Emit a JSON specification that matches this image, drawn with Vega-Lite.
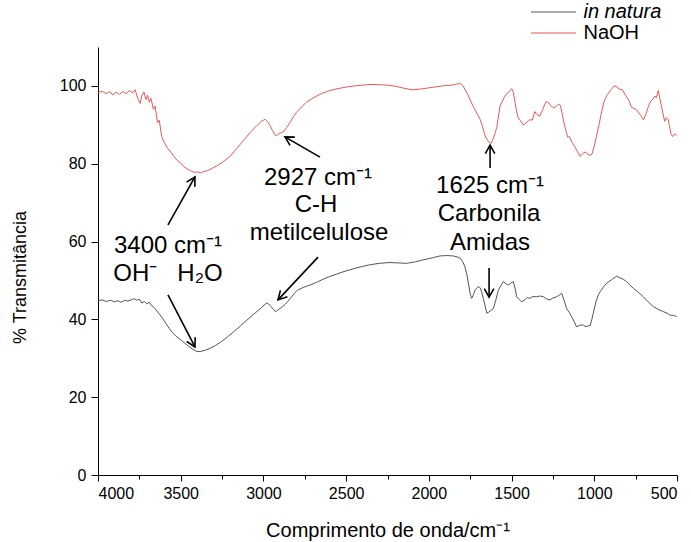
{
  "$schema": "https://vega.github.io/schema/vega-lite/v6.json",
  "width": 579,
  "height": 428,
  "autosize": {"type": "none"},
  "padding": {"left": 98, "top": 47, "right": 14, "bottom": 67},
  "background": "white",
  "config": {
    "view": {"stroke": null},
    "font": "Liberation Sans",
    "axis": {
      "domainColor": "black",
      "tickColor": "black",
      "labelColor": "black",
      "titleColor": "black",
      "labelFont": "Liberation Sans",
      "titleFont": "Liberation Sans",
      "labelFontSize": 16,
      "titleFontSize": 19,
      "titleFontWeight": "normal",
      "grid": false
    }
  },
  "datasets": {
    "spectra": [
      {"series":"NaOH","wn":4000,"T":98.3},{"series":"NaOH","wn":3975,"T":98.6},{"series":"NaOH","wn":3950,"T":98.0},{"series":"NaOH","wn":3930,"T":98.5},{"series":"NaOH","wn":3910,"T":97.7},{"series":"NaOH","wn":3890,"T":98.4},{"series":"NaOH","wn":3870,"T":97.8},{"series":"NaOH","wn":3850,"T":98.6},{"series":"NaOH","wn":3830,"T":98.0},{"series":"NaOH","wn":3810,"T":98.8},{"series":"NaOH","wn":3790,"T":98.2},{"series":"NaOH","wn":3775,"T":99.0},{"series":"NaOH","wn":3760,"T":96.8},{"series":"NaOH","wn":3745,"T":95.5},{"series":"NaOH","wn":3735,"T":97.5},{"series":"NaOH","wn":3722,"T":98.4},{"series":"NaOH","wn":3710,"T":96.5},{"series":"NaOH","wn":3700,"T":97.6},{"series":"NaOH","wn":3690,"T":95.8},{"series":"NaOH","wn":3680,"T":96.8},{"series":"NaOH","wn":3665,"T":94.0},{"series":"NaOH","wn":3655,"T":94.8},{"series":"NaOH","wn":3640,"T":90.5},{"series":"NaOH","wn":3630,"T":91.2},{"series":"NaOH","wn":3615,"T":87.0},{"series":"NaOH","wn":3600,"T":85.5},{"series":"NaOH","wn":3580,"T":84.0},{"series":"NaOH","wn":3560,"T":83.0},{"series":"NaOH","wn":3540,"T":81.8},{"series":"NaOH","wn":3520,"T":80.8},{"series":"NaOH","wn":3500,"T":80.2},{"series":"NaOH","wn":3480,"T":79.2},{"series":"NaOH","wn":3460,"T":78.6},{"series":"NaOH","wn":3440,"T":78.2},{"series":"NaOH","wn":3420,"T":77.8},{"series":"NaOH","wn":3400,"T":77.9},{"series":"NaOH","wn":3380,"T":77.6},{"series":"NaOH","wn":3360,"T":78.0},{"series":"NaOH","wn":3340,"T":78.2},{"series":"NaOH","wn":3310,"T":78.8},{"series":"NaOH","wn":3280,"T":79.5},{"series":"NaOH","wn":3240,"T":80.6},{"series":"NaOH","wn":3200,"T":82.0},{"series":"NaOH","wn":3160,"T":84.0},{"series":"NaOH","wn":3120,"T":86.0},{"series":"NaOH","wn":3080,"T":88.0},{"series":"NaOH","wn":3040,"T":89.8},{"series":"NaOH","wn":3010,"T":91.0},{"series":"NaOH","wn":2990,"T":91.4},{"series":"NaOH","wn":2975,"T":90.8},{"series":"NaOH","wn":2960,"T":89.8},{"series":"NaOH","wn":2945,"T":88.5},{"series":"NaOH","wn":2930,"T":87.4},{"series":"NaOH","wn":2920,"T":87.2},{"series":"NaOH","wn":2905,"T":87.8},{"series":"NaOH","wn":2890,"T":88.0},{"series":"NaOH","wn":2875,"T":88.4},{"series":"NaOH","wn":2860,"T":89.3},{"series":"NaOH","wn":2840,"T":90.6},{"series":"NaOH","wn":2820,"T":92.0},{"series":"NaOH","wn":2800,"T":93.2},{"series":"NaOH","wn":2770,"T":94.6},{"series":"NaOH","wn":2740,"T":95.8},{"series":"NaOH","wn":2700,"T":96.9},{"series":"NaOH","wn":2650,"T":98.0},{"series":"NaOH","wn":2600,"T":98.8},{"series":"NaOH","wn":2550,"T":99.3},{"series":"NaOH","wn":2500,"T":99.7},{"series":"NaOH","wn":2450,"T":100.0},{"series":"NaOH","wn":2400,"T":100.2},{"series":"NaOH","wn":2350,"T":100.4},{"series":"NaOH","wn":2300,"T":100.3},{"series":"NaOH","wn":2250,"T":100.2},{"series":"NaOH","wn":2200,"T":99.9},{"series":"NaOH","wn":2150,"T":99.4},{"series":"NaOH","wn":2100,"T":99.0},{"series":"NaOH","wn":2050,"T":99.2},{"series":"NaOH","wn":2000,"T":99.5},{"series":"NaOH","wn":1950,"T":99.8},{"series":"NaOH","wn":1900,"T":100.1},{"series":"NaOH","wn":1860,"T":100.2},{"series":"NaOH","wn":1830,"T":100.5},{"series":"NaOH","wn":1810,"T":100.6},{"series":"NaOH","wn":1795,"T":100.1},{"series":"NaOH","wn":1780,"T":99.0},{"series":"NaOH","wn":1765,"T":97.8},{"series":"NaOH","wn":1750,"T":96.4},{"series":"NaOH","wn":1735,"T":95.0},{"series":"NaOH","wn":1720,"T":93.8},{"series":"NaOH","wn":1705,"T":92.6},{"series":"NaOH","wn":1690,"T":91.4},{"series":"NaOH","wn":1675,"T":89.5},{"series":"NaOH","wn":1660,"T":87.2},{"series":"NaOH","wn":1645,"T":85.9},{"series":"NaOH","wn":1635,"T":85.6},{"series":"NaOH","wn":1625,"T":85.2},{"series":"NaOH","wn":1615,"T":86.0},{"series":"NaOH","wn":1600,"T":87.8},{"series":"NaOH","wn":1590,"T":89.3},{"series":"NaOH","wn":1580,"T":92.0},{"series":"NaOH","wn":1570,"T":94.8},{"series":"NaOH","wn":1560,"T":95.6},{"series":"NaOH","wn":1545,"T":97.0},{"series":"NaOH","wn":1530,"T":98.0},{"series":"NaOH","wn":1515,"T":98.5},{"series":"NaOH","wn":1500,"T":99.3},{"series":"NaOH","wn":1490,"T":98.5},{"series":"NaOH","wn":1480,"T":96.0},{"series":"NaOH","wn":1470,"T":93.6},{"series":"NaOH","wn":1460,"T":91.8},{"series":"NaOH","wn":1445,"T":91.0},{"series":"NaOH","wn":1430,"T":90.0},{"series":"NaOH","wn":1415,"T":90.4},{"series":"NaOH","wn":1400,"T":91.0},{"series":"NaOH","wn":1390,"T":91.3},{"series":"NaOH","wn":1375,"T":91.2},{"series":"NaOH","wn":1360,"T":93.4},{"series":"NaOH","wn":1345,"T":92.6},{"series":"NaOH","wn":1330,"T":92.2},{"series":"NaOH","wn":1315,"T":93.6},{"series":"NaOH","wn":1300,"T":95.2},{"series":"NaOH","wn":1290,"T":96.0},{"series":"NaOH","wn":1275,"T":95.6},{"series":"NaOH","wn":1260,"T":94.8},{"series":"NaOH","wn":1245,"T":94.3},{"series":"NaOH","wn":1230,"T":94.8},{"series":"NaOH","wn":1215,"T":95.3},{"series":"NaOH","wn":1205,"T":95.0},{"series":"NaOH","wn":1195,"T":93.0},{"series":"NaOH","wn":1185,"T":90.8},{"series":"NaOH","wn":1170,"T":88.2},{"series":"NaOH","wn":1160,"T":86.8},{"series":"NaOH","wn":1150,"T":87.0},{"series":"NaOH","wn":1135,"T":85.5},{"series":"NaOH","wn":1120,"T":84.5},{"series":"NaOH","wn":1100,"T":83.0},{"series":"NaOH","wn":1085,"T":81.9},{"series":"NaOH","wn":1070,"T":82.6},{"series":"NaOH","wn":1055,"T":83.0},{"series":"NaOH","wn":1045,"T":82.7},{"series":"NaOH","wn":1030,"T":82.2},{"series":"NaOH","wn":1015,"T":82.4},{"series":"NaOH","wn":1000,"T":84.5},{"series":"NaOH","wn":985,"T":87.5},{"series":"NaOH","wn":970,"T":90.3},{"series":"NaOH","wn":955,"T":93.5},{"series":"NaOH","wn":940,"T":96.2},{"series":"NaOH","wn":920,"T":97.8},{"series":"NaOH","wn":900,"T":99.0},{"series":"NaOH","wn":880,"T":100.0},{"series":"NaOH","wn":865,"T":99.8},{"series":"NaOH","wn":850,"T":99.2},{"series":"NaOH","wn":830,"T":99.0},{"series":"NaOH","wn":810,"T":97.5},{"series":"NaOH","wn":790,"T":96.2},{"series":"NaOH","wn":775,"T":94.5},{"series":"NaOH","wn":760,"T":94.2},{"series":"NaOH","wn":745,"T":93.9},{"series":"NaOH","wn":730,"T":93.0},{"series":"NaOH","wn":715,"T":92.2},{"series":"NaOH","wn":703,"T":91.3},{"series":"NaOH","wn":690,"T":92.5},{"series":"NaOH","wn":675,"T":94.5},{"series":"NaOH","wn":660,"T":96.0},{"series":"NaOH","wn":645,"T":96.6},{"series":"NaOH","wn":633,"T":97.4},{"series":"NaOH","wn":625,"T":97.0},{"series":"NaOH","wn":613,"T":98.8},{"series":"NaOH","wn":605,"T":97.0},{"series":"NaOH","wn":595,"T":95.0},{"series":"NaOH","wn":585,"T":93.0},{"series":"NaOH","wn":575,"T":90.9},{"series":"NaOH","wn":565,"T":91.8},{"series":"NaOH","wn":553,"T":91.4},{"series":"NaOH","wn":545,"T":89.5},{"series":"NaOH","wn":535,"T":87.5},{"series":"NaOH","wn":527,"T":87.0},{"series":"NaOH","wn":515,"T":87.6},{"series":"NaOH","wn":503,"T":87.3},
      {"series":"in natura","wn":4000,"T":44.8},{"series":"in natura","wn":3975,"T":45.0},{"series":"in natura","wn":3950,"T":44.6},{"series":"in natura","wn":3925,"T":44.9},{"series":"in natura","wn":3900,"T":44.5},{"series":"in natura","wn":3880,"T":44.8},{"series":"in natura","wn":3860,"T":44.4},{"series":"in natura","wn":3840,"T":44.9},{"series":"in natura","wn":3820,"T":44.7},{"series":"in natura","wn":3800,"T":45.0},{"series":"in natura","wn":3780,"T":45.3},{"series":"in natura","wn":3765,"T":44.9},{"series":"in natura","wn":3750,"T":45.2},{"series":"in natura","wn":3735,"T":44.2},{"series":"in natura","wn":3720,"T":44.6},{"series":"in natura","wn":3705,"T":44.0},{"series":"in natura","wn":3690,"T":44.4},{"series":"in natura","wn":3675,"T":43.5},{"series":"in natura","wn":3660,"T":43.0},{"series":"in natura","wn":3645,"T":42.2},{"series":"in natura","wn":3630,"T":41.4},{"series":"in natura","wn":3610,"T":40.3},{"series":"in natura","wn":3590,"T":39.0},{"series":"in natura","wn":3570,"T":37.7},{"series":"in natura","wn":3550,"T":36.6},{"series":"in natura","wn":3530,"T":35.7},{"series":"in natura","wn":3510,"T":35.1},{"series":"in natura","wn":3490,"T":34.4},{"series":"in natura","wn":3470,"T":33.7},{"series":"in natura","wn":3450,"T":33.0},{"series":"in natura","wn":3430,"T":32.4},{"series":"in natura","wn":3410,"T":31.9},{"series":"in natura","wn":3395,"T":31.7},{"series":"in natura","wn":3375,"T":31.8},{"series":"in natura","wn":3350,"T":32.1},{"series":"in natura","wn":3320,"T":32.6},{"series":"in natura","wn":3290,"T":33.3},{"series":"in natura","wn":3260,"T":34.1},{"series":"in natura","wn":3220,"T":35.4},{"series":"in natura","wn":3180,"T":36.8},{"series":"in natura","wn":3140,"T":38.3},{"series":"in natura","wn":3100,"T":39.8},{"series":"in natura","wn":3060,"T":41.3},{"series":"in natura","wn":3020,"T":42.7},{"series":"in natura","wn":2995,"T":43.7},{"series":"in natura","wn":2980,"T":44.2},{"series":"in natura","wn":2970,"T":44.0},{"series":"in natura","wn":2955,"T":43.3},{"series":"in natura","wn":2940,"T":42.6},{"series":"in natura","wn":2928,"T":42.0},{"series":"in natura","wn":2915,"T":42.3},{"series":"in natura","wn":2900,"T":42.8},{"series":"in natura","wn":2885,"T":43.3},{"series":"in natura","wn":2870,"T":43.8},{"series":"in natura","wn":2855,"T":44.5},{"series":"in natura","wn":2835,"T":45.5},{"series":"in natura","wn":2815,"T":46.6},{"series":"in natura","wn":2795,"T":47.5},{"series":"in natura","wn":2760,"T":48.2},{"series":"in natura","wn":2720,"T":48.8},{"series":"in natura","wn":2680,"T":49.5},{"series":"in natura","wn":2640,"T":50.3},{"series":"in natura","wn":2600,"T":51.0},{"series":"in natura","wn":2560,"T":51.6},{"series":"in natura","wn":2520,"T":52.2},{"series":"in natura","wn":2480,"T":52.7},{"series":"in natura","wn":2440,"T":53.2},{"series":"in natura","wn":2400,"T":53.6},{"series":"in natura","wn":2360,"T":54.0},{"series":"in natura","wn":2300,"T":54.4},{"series":"in natura","wn":2235,"T":54.6},{"series":"in natura","wn":2180,"T":54.5},{"series":"in natura","wn":2134,"T":54.4},{"series":"in natura","wn":2080,"T":54.8},{"series":"in natura","wn":2033,"T":55.3},{"series":"in natura","wn":1980,"T":55.8},{"series":"in natura","wn":1933,"T":56.3},{"series":"in natura","wn":1890,"T":56.4},{"series":"in natura","wn":1852,"T":56.3},{"series":"in natura","wn":1825,"T":56.0},{"series":"in natura","wn":1810,"T":55.7},{"series":"in natura","wn":1795,"T":54.8},{"series":"in natura","wn":1782,"T":53.5},{"series":"in natura","wn":1770,"T":51.5},{"series":"in natura","wn":1761,"T":49.3},{"series":"in natura","wn":1750,"T":46.5},{"series":"in natura","wn":1741,"T":45.4},{"series":"in natura","wn":1730,"T":46.4},{"series":"in natura","wn":1721,"T":47.5},{"series":"in natura","wn":1711,"T":48.0},{"series":"in natura","wn":1700,"T":48.4},{"series":"in natura","wn":1691,"T":48.2},{"series":"in natura","wn":1681,"T":47.1},{"series":"in natura","wn":1670,"T":45.2},{"series":"in natura","wn":1660,"T":43.5},{"series":"in natura","wn":1650,"T":41.6},{"series":"in natura","wn":1640,"T":41.8},{"series":"in natura","wn":1625,"T":42.3},{"series":"in natura","wn":1610,"T":42.8},{"series":"in natura","wn":1595,"T":45.0},{"series":"in natura","wn":1580,"T":47.5},{"series":"in natura","wn":1565,"T":48.6},{"series":"in natura","wn":1550,"T":49.7},{"series":"in natura","wn":1535,"T":49.2},{"series":"in natura","wn":1519,"T":48.8},{"series":"in natura","wn":1505,"T":49.3},{"series":"in natura","wn":1489,"T":49.7},{"series":"in natura","wn":1478,"T":47.8},{"series":"in natura","wn":1469,"T":45.8},{"series":"in natura","wn":1455,"T":45.2},{"series":"in natura","wn":1439,"T":44.5},{"series":"in natura","wn":1420,"T":45.0},{"series":"in natura","wn":1405,"T":45.6},{"series":"in natura","wn":1389,"T":45.4},{"series":"in natura","wn":1370,"T":45.9},{"series":"in natura","wn":1348,"T":45.8},{"series":"in natura","wn":1330,"T":46.0},{"series":"in natura","wn":1308,"T":45.8},{"series":"in natura","wn":1290,"T":45.3},{"series":"in natura","wn":1268,"T":45.0},{"series":"in natura","wn":1250,"T":45.5},{"series":"in natura","wn":1227,"T":45.8},{"series":"in natura","wn":1210,"T":46.3},{"series":"in natura","wn":1197,"T":46.7},{"series":"in natura","wn":1182,"T":44.8},{"series":"in natura","wn":1167,"T":42.8},{"series":"in natura","wn":1150,"T":41.7},{"series":"in natura","wn":1137,"T":40.7},{"series":"in natura","wn":1120,"T":39.3},{"series":"in natura","wn":1107,"T":38.1},{"series":"in natura","wn":1090,"T":38.4},{"series":"in natura","wn":1075,"T":38.6},{"series":"in natura","wn":1066,"T":38.5},{"series":"in natura","wn":1050,"T":38.1},{"series":"in natura","wn":1035,"T":38.4},{"series":"in natura","wn":1026,"T":38.3},{"series":"in natura","wn":1015,"T":40.0},{"series":"in natura","wn":1006,"T":41.6},{"series":"in natura","wn":990,"T":44.5},{"series":"in natura","wn":975,"T":46.3},{"series":"in natura","wn":965,"T":47.1},{"series":"in natura","wn":945,"T":48.3},{"series":"in natura","wn":925,"T":49.3},{"series":"in natura","wn":895,"T":50.2},{"series":"in natura","wn":865,"T":51.1},{"series":"in natura","wn":845,"T":50.7},{"series":"in natura","wn":825,"T":50.3},{"series":"in natura","wn":804,"T":49.7},{"series":"in natura","wn":785,"T":48.8},{"series":"in natura","wn":764,"T":48.0},{"series":"in natura","wn":735,"T":47.0},{"series":"in natura","wn":703,"T":45.8},{"series":"in natura","wn":675,"T":44.5},{"series":"in natura","wn":643,"T":43.3},{"series":"in natura","wn":615,"T":42.6},{"series":"in natura","wn":583,"T":42.0},{"series":"in natura","wn":560,"T":41.6},{"series":"in natura","wn":543,"T":41.1},{"series":"in natura","wn":520,"T":41.0},{"series":"in natura","wn":503,"T":40.7}
    ],
    "notes": [
      {"label":"2927 cm⁻¹","wn":2670,"T":76.3},
      {"label":"C-H","wn":2682,"T":69.4},
      {"label":"metilcelulose","wn":2664,"T":62.2},
      {"label":"1625 cm⁻¹","wn":1630,"T":74.3},
      {"label":"Carbonila","wn":1636,"T":67.1},
      {"label":"Amidas","wn":1630,"T":59.6},
      {"label":"3400 cm⁻¹","wn":3577,"T":58.9},
      {"label":"OH⁻\u00a0\u00a0\u00a0H₂O","wn":3577,"T":51.7}
    ],
    "arrows": [
      {"wn":3577,"T":64.3,"wn2":3414,"T2":76.6},
      {"wn":3577,"T":46.3,"wn2":3414,"T2":32.9},
      {"wn":2658,"T":81.7,"wn2":2870,"T2":86.9},
      {"wn":2670,"T":56.0,"wn2":2912,"T2":45.0},
      {"wn":1630,"T":78.9,"wn2":1630,"T2":84.8},
      {"wn":1636,"T":53.2,"wn2":1636,"T2":45.7}
    ]
  },
  "layer": [
    {
      "data": {"name": "spectra"},
      "mark": {"type": "line", "strokeWidth": 1, "clip": true},
      "encoding": {
        "x": {
          "field": "wn", "type": "quantitative",
          "scale": {"domain": [4000, 500], "nice": false, "zero": false},
          "axis": {
            "title": "Comprimento de onda/cm⁻¹",
            "values": [4000,3750,3500,3250,3000,2750,2500,2250,2000,1750,1500,1250,1000,750,500],
            "labelExpr": "datum.value % 500 === 0 ? datum.label : ''",
            "format": "d",
            "tickSize": {"condition": {"test": "datum.value % 500 !== 0", "value": 4}, "value": 6},
            "labelPadding": 4,
            "titleFontSize": 20,
            "titleY": 55,
            "titleBaseline": "middle"
          }
        },
        "y": {
          "field": "T", "type": "quantitative",
          "scale": {"domain": [0, 110], "nice": false},
          "axis": {
            "title": "% Transmitância",
            "values": [0,10,20,30,40,50,60,70,80,90,100,110],
            "labelExpr": "datum.value % 20 === 0 ? datum.label : ''",
            "tickSize": {"condition": {"test": "datum.value % 20 !== 0", "value": 4}, "value": 7},
            "labelPadding": 5,
            "titleFontSize": 18,
            "titleX": -78,
            "titleY": 230,
            "titleAngle": -90,
            "titleBaseline": "middle",
            "titleAnchor": null
          }
        },
        "color": {
          "field": "series", "type": "nominal",
          "scale": {"domain": ["in natura", "NaOH"], "range": ["#555555", "#ec5558"]},
          "legend": {
            "title": null,
            "orient": "none",
            "legendX": 445.5,
            "legendY": -45,
            "symbolType": "M-2.5,0L2.5,0",
            "symbolSize": 324,
            "symbolStrokeWidth": 1,
            "labelFontSize": 20,
            "labelFont": "Liberation Sans",
            "labelColor": "black",
            "labelOffset": 20,
            "rowPadding": 1,
            "encode": {
              "labels": {"update": {"fontStyle": {"signal": "datum.value === 'in natura' ? 'italic' : 'normal'"}}}
            }
          }
        }
      }
    },
    {
      "data": {"name": "arrows"},
      "mark": {"type": "rule", "color": "black", "strokeWidth": 1.6},
      "encoding": {
        "x": {"field": "wn", "type": "quantitative"},
        "y": {"field": "T", "type": "quantitative"},
        "x2": {"field": "wn2"},
        "y2": {"field": "T2"}
      }
    },
    {
      "data": {"name": "arrows"},
      "transform": [
        {"calculate": "(360 + atan2((datum.wn - datum.wn2) * 579 / 3500, (datum.T2 - datum.T) * 428 / 110) * 180 / PI) % 360", "as": "ang"}
      ],
      "mark": {"type": "point", "shape": "M-0.55,1L0,0L0.55,1", "filled": false, "stroke": "black", "strokeWidth": 1.6, "size": 300, "opacity": 1},
      "encoding": {
        "x": {"field": "wn2", "type": "quantitative"},
        "y": {"field": "T2", "type": "quantitative"},
        "angle": {"field": "ang", "type": "quantitative", "scale": null}
      }
    },
    {
      "data": {"name": "notes"},
      "mark": {"type": "text", "fontSize": 24, "font": "Liberation Sans", "color": "black", "align": "center", "baseline": "middle"},
      "encoding": {
        "x": {"field": "wn", "type": "quantitative"},
        "y": {"field": "T", "type": "quantitative"},
        "text": {"field": "label"}
      }
    }
  ]
}
